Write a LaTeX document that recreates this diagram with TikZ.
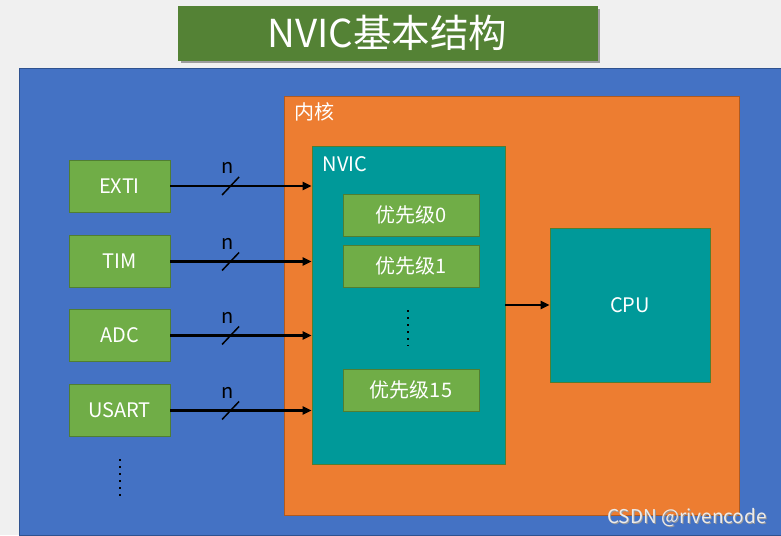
\documentclass[tikz,border=0pt]{standalone}
\usepackage{fontspec}
\setmainfont{Noto Sans CJK SC}
\usetikzlibrary{arrows.meta,shadows}
\definecolor{bgc}{HTML}{F0F0F0}
\definecolor{titleg}{HTML}{548235}
\definecolor{socblue}{HTML}{4472C4}
\definecolor{socedge}{HTML}{2F528F}
\definecolor{coreor}{HTML}{ED7D31}
\definecolor{coreedge}{HTML}{AE5A21}
\definecolor{tealc}{HTML}{009999}
\definecolor{greenc}{HTML}{70AD47}
\definecolor{greenedge}{HTML}{507E32}
\tikzset{
  rbox/.style={draw, line width=0.8pt, inner sep=0pt, text=white, font=\fontsize{20}{24}\selectfont},
  periph/.style={rbox, fill=greenc, draw=greenedge, minimum width=101pt, minimum height=52pt},
  prio/.style={rbox, fill=greenc, draw=greenedge, minimum width=136pt, minimum height=42pt},
  tealbox/.style={rbox, fill=tealc, draw=greenedge},
  busarrow/.style={line width=2.6pt, -{Triangle[length=9pt,width=8pt]}},
  slashmark/.style={line width=1.5pt},
  nlabel/.style={font=\fontsize{20}{24}\selectfont, text=black, inner sep=0pt},
  vdots/.style={line width=2.2pt, dash pattern=on 2.2pt off 4.8pt},
  boxlabel/.style={font=\fontsize{20}{24}\selectfont, text=white, inner sep=0pt}
}
\begin{document}
\begin{tikzpicture}[x=1pt,y=-1pt]
\useasboundingbox (0,0) rectangle (781,535);
\fill[bgc] (0,0) rectangle (781,535);
% title
\node[rbox, fill=titleg, draw=titleg, minimum width=419pt, minimum height=54pt,
      font=\fontsize{38.5}{42}\selectfont,
      drop shadow={shadow xshift=3pt, shadow yshift=-3pt, opacity=0.35, fill=black}]
  (title) at (387.5,33) {NVIC基本结构};
% containers
\node[rbox, fill=socblue, draw=socedge, minimum width=764pt, minimum height=467pt] (soc) at (401,301.5) {};
\node[rbox, fill=coreor, draw=coreedge, minimum width=455pt, minimum height=419pt] (core) at (511.5,305.5) {};
\node[boxlabel] (corelbl) at (314,112) {内核};
\node[tealbox, minimum width=193pt, minimum height=318pt] (nvic) at (408.5,305) {};
\node[boxlabel] (nviclbl) at (345,164) {NVIC};
% priorities
\node[prio] (p0) at (411,215) {优先级0};
\node[prio] (p1) at (411,266) {优先级1};
\node[prio] (p15) at (411,390) {优先级15};
\coordinate (pd1) at (408,310);
\coordinate (pd2) at (408,346);
\draw[vdots] (pd1) -- (pd2);
% CPU
\node[tealbox, minimum width=160pt, minimum height=154pt] (cpu) at (630,305) {CPU};
\draw[busarrow] (nvic.east |- cpu) -- (cpu.west);
% peripherals
\node[periph] (exti) at (119.5,186) {EXTI};
\node[periph] (tim) at (119.5,261.5) {TIM};
\node[periph] (adc) at (119.5,335.5) {ADC};
\node[periph] (usart) at (119.5,410.5) {USART};
\coordinate (ld1) at (120,459);
\coordinate (ld2) at (120,497);
\draw[vdots] (ld1) -- (ld2);
\foreach \p in {exti,tim,adc,usart}{
  \draw[busarrow] (\p.east) -- (\p -| nvic.west) coordinate[pos=0.426] (s\p);
  \draw[slashmark] ([shift={(-8.5,9)}]s\p) -- ([shift={(8.5,-9)}]s\p);
  \node[nlabel] at ([shift={(-3,-18)}]s\p) {n};
}
% watermark
\node[font=\fontsize{19}{23}\selectfont, text=black!40, inner sep=0pt] (wm0) at (688,519) {CSDN @rivencode};
\node[font=\fontsize{19}{23}\selectfont, text=white!85!gray, inner sep=0pt] (wm) at (687,518) {CSDN @rivencode};
\end{tikzpicture}
\end{document}
